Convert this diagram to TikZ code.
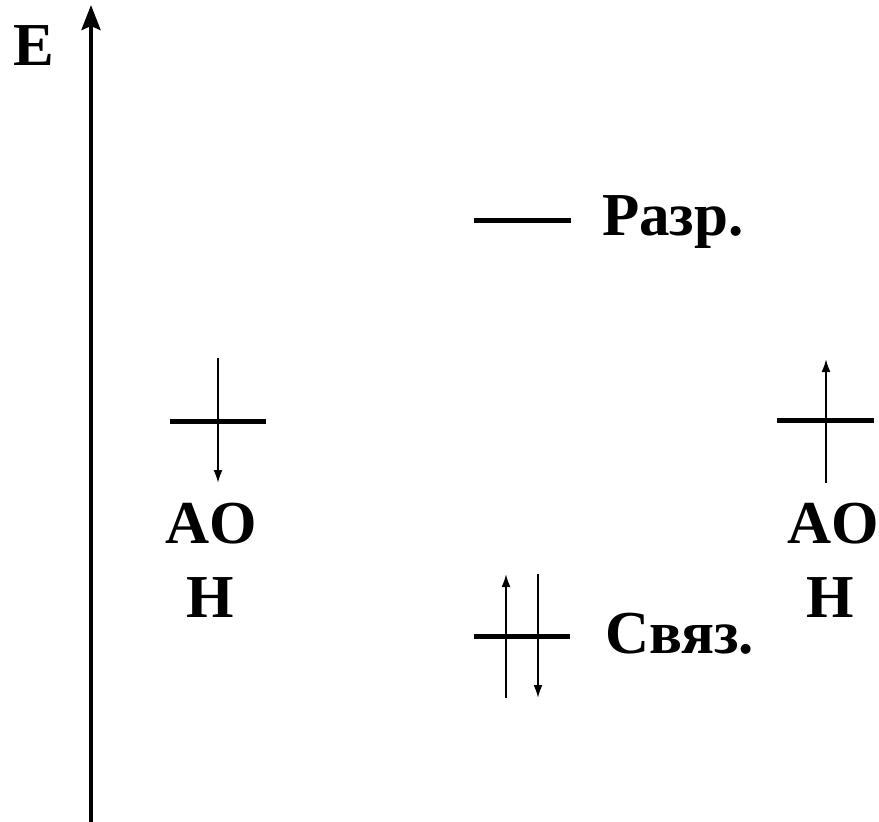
\documentclass[tikz,border=0pt]{standalone}
\usepackage{fontspec}
\setmainfont{Liberation Serif}
\usetikzlibrary{arrows.meta}
\begin{document}
\begin{tikzpicture}[x=1pt,y=-1pt,
  lvl/.style={line width=5pt},
  spin/.style={line width=2pt,-{Latex[length=13pt,width=9pt]}},
  lbl/.style={font=\fontsize{61}{72}\selectfont\bfseries,inner sep=0pt,anchor=base}]
\useasboundingbox (0,0) rectangle (879,822);
% axis
\coordinate (ax0) at (91,822);
\coordinate (ax1) at (91,5);
\draw[line width=4pt,-{Stealth[length=25pt,width=19pt,inset=4pt]}] (ax0) -- (ax1);
\node[lbl] (E) at (33.5,65) {E};
% left AO
\coordinate (l1) at (170,421); \coordinate (l2) at (266,421);
\draw[lvl] (l1) -- (l2);
\coordinate (ls) at (218,358); \coordinate (le) at (218,483);
\draw[spin] (ls) -- (le);
\node[lbl] (ao1) at (211,543) {AO};
\node[lbl] (h1) at (210,617) {H};
% right AO
\coordinate (r1) at (777,420); \coordinate (r2) at (874,420);
\draw[lvl] (r1) -- (r2);
\coordinate (rs) at (826,483); \coordinate (re) at (826,359);
\draw[spin] (rs) -- (re);
\node[lbl] (ao2) at (833,543) {AO};
\node[lbl] (h2) at (830,617) {H};
% antibonding
\coordinate (a1) at (474,220); \coordinate (a2) at (571,220);
\draw[lvl] (a1) -- (a2);
\node[lbl,anchor=base west] (razr) at (602,235) {Разр.};
% bonding
\coordinate (b1) at (474,636); \coordinate (b2) at (570,636);
\draw[lvl] (b1) -- (b2);
\coordinate (bu0) at (506,698); \coordinate (bu1) at (506,574);
\coordinate (bd0) at (538,574); \coordinate (bd1) at (538,698);
\draw[spin] (bu0) -- (bu1);
\draw[spin] (bd0) -- (bd1);
\node[lbl,anchor=base west] (svyaz) at (605,653) {Связ.};
\end{tikzpicture}
\end{document}
